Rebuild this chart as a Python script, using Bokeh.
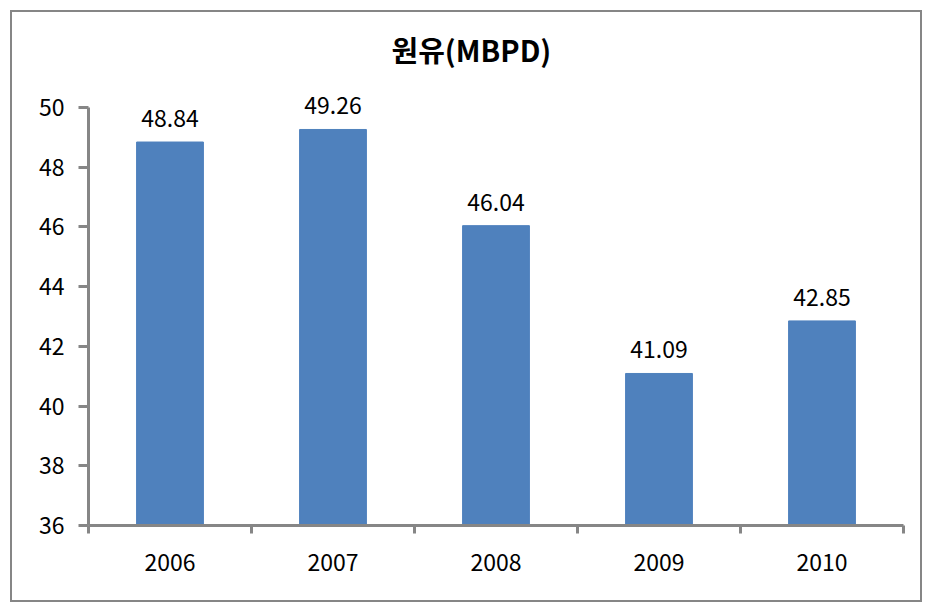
from bokeh.plotting import figure
from bokeh.models import Range1d, FixedTicker, ColumnDataSource
from bokeh.embed import file_html
from bokeh.resources import INLINE
from bokeh.core.properties import value

title_text = "원유(MBPD)"
years = ["2006", "2007", "2008", "2009", "2010"]
values = [48.84, 49.26, 46.04, 41.09, 42.85]
y_ticks = [36, 38, 40, 42, 44, 46, 48, 50]

FONT = "Noto Sans CJK KR"
GRAY = "#868686"
BLUE = "#4F81BD"

xs = [i + 0.5 for i in range(len(years))]
src = ColumnDataSource(dict(x=xs, top=values, label=[f"{v:.2f}" for v in values]))

# y range extends a little above 50 so the top value label is not clipped;
# the axis line itself is bounded to 36..50
p = figure(width=912, height=592, output_backend="svg", toolbar_location=None,
           x_range=Range1d(0, len(years)), y_range=Range1d(36, 50.9),
           min_border_left=76, min_border_right=21, min_border_top=68, min_border_bottom=79,
           title=title_text)
p.styles = {"margin-left": "10px", "margin-top": "10px", "border": f"2px solid {GRAY}"}

p.title.text_font = FONT
p.title.text_font_size = "29px"
p.title.text_font_style = "bold"
p.title.text_color = "black"
p.title.align = "left"
p.title.offset = 303
p.title.standoff = 22

p.outline_line_color = None
p.xgrid.visible = False
p.ygrid.visible = False

p.vbar(x="x", top="top", bottom=36, width=0.41, color=BLUE, source=src)
p.text(x="x", y="top", text="label", source=src, text_align="center", text_baseline="bottom",
       y_offset=-15, text_font=value(FONT), text_font_size="23px", text_color="black")

# y axis
p.yaxis.ticker = FixedTicker(ticks=y_ticks, minor_ticks=[])
p.yaxis.bounds = (36, 50)
p.yaxis.axis_line_color = GRAY
p.yaxis.axis_line_width = 3
p.yaxis.major_tick_line_color = GRAY
p.yaxis.major_tick_line_width = 3
p.yaxis.major_tick_in = 0
p.yaxis.major_tick_out = 10
p.yaxis.minor_tick_line_color = None
p.yaxis.major_label_standoff = 14
p.yaxis.major_label_text_font = FONT
p.yaxis.major_label_text_font_size = "23px"
p.yaxis.major_label_text_color = "black"

# x axis: labels at centres, tick marks at boundaries
p.xaxis.ticker = FixedTicker(ticks=xs, minor_ticks=list(range(len(years) + 1)))
p.xaxis.major_label_overrides = {x: y for x, y in zip(xs, years)}
p.xaxis.axis_line_color = GRAY
p.xaxis.axis_line_width = 3
p.xaxis.major_tick_line_color = None
p.xaxis.major_tick_in = 0
p.xaxis.major_tick_out = 0
p.xaxis.minor_tick_line_color = GRAY
p.xaxis.minor_tick_line_width = 3
p.xaxis.minor_tick_in = 0
p.xaxis.minor_tick_out = 8
p.xaxis.major_label_standoff = 20
p.xaxis.major_label_text_font = FONT
p.xaxis.major_label_text_font_size = "23px"
p.xaxis.major_label_text_color = "black"

open("out.html", "w").write(file_html(p, INLINE))
